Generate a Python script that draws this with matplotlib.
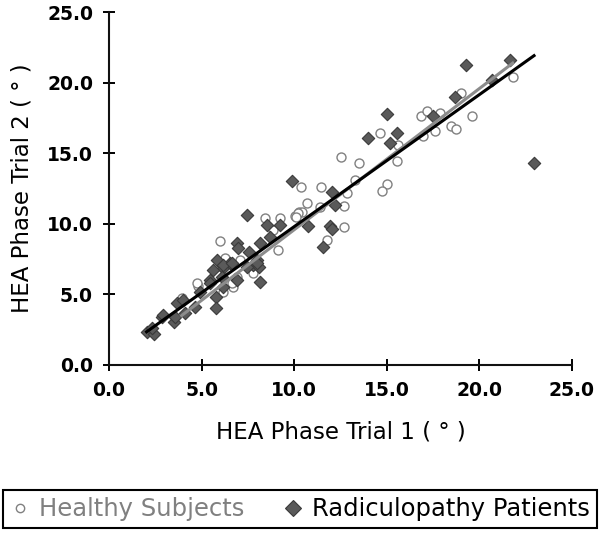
import numpy as np
from matplotlib import pyplot as plt

# HEA phase, trial 1 vs trial 2 (degrees)
healthy_t1 = [21.8, 18.99, 19.58, 16.83, 17.19, 17.87, 18.45, 18.74, 17.62, 14.63,
              15.62, 12.51, 13.52, 15.57, 15.03, 14.72, 12.87, 16.95, 13.3, 10.35,
              11.45, 12.69, 12.69, 11.75, 10.67, 10.28, 10.04, 9.23, 8.42, 11.39,
              5.99, 9.14, 8.84, 4.82, 3.92, 6.17, 6.71, 7.79, 6.9, 4.73,
              6.8, 6.26, 7.07, 6.62, 10.4, 10.22, 10.1]
healthy_t2 = [20.4, 19.24, 17.6, 17.6, 18.0, 17.87, 16.93, 16.69, 16.55, 16.45,
              15.58, 14.71, 14.28, 14.47, 12.82, 12.35, 12.2, 16.2, 13.1, 12.58,
              12.58, 11.26, 9.8, 8.85, 11.45, 10.86, 10.55, 10.39, 10.39, 11.21,
              8.78, 8.14, 9.56, 5.59, 4.72, 5.19, 5.55, 6.49, 6.25, 5.79,
              6.02, 7.55, 7.44, 5.79, 10.84, 10.74, 10.46]

radic_t1 = [21.65, 19.26, 18.68, 20.7, 15.03, 15.53, 14.0, 15.17, 17.5, 22.95,
            12.02, 9.86, 12.2, 10.76, 11.93, 12.02, 11.54, 7.43, 8.51, 9.23,
            8.69, 6.89, 6.98, 7.58, 8.15, 5.81, 7.97, 7.79, 8.12, 6.17,
            6.53, 5.63, 5.45, 8.15, 6.9, 6.17, 5.78, 5.78, 4.64, 4.1,
            3.53, 3.56, 2.84, 2.03, 2.43, 2.3, 6.17, 6.62, 6.08, 5.45,
            3.65, 2.93, 4.01, 4.91, 7.43, 7.97]
radic_t2 = [21.6, 21.25, 19.0, 20.2, 17.78, 16.45, 16.1, 15.75, 17.6, 14.28,
            12.27, 13.03, 11.33, 9.84, 9.84, 9.61, 8.38, 10.62, 9.91, 9.91,
            9.09, 8.62, 8.26, 8.03, 8.62, 7.44, 7.44, 7.08, 6.92, 6.85,
            7.2, 6.73, 6.02, 5.9, 6.02, 5.55, 4.84, 4.06, 4.13, 3.66,
            3.07, 3.42, 3.42, 2.36, 2.2, 2.6, 7.08, 7.2, 6.25, 5.79,
            4.37, 3.54, 4.6, 5.19, 6.96, 7.2]

# linear trend lines (slope, intercept)
fit_healthy = (1.0, -0.42)
fit_radic = (0.935, 0.45)

ticks = [0, 5, 10, 15, 20, 25]

fig = plt.figure(figsize=(6.01, 5.33), dpi=100)
ax = fig.add_axes([109 / 601, 1 - 365 / 533, 463 / 601, 353 / 533])

ax.scatter(healthy_t1, healthy_t2, s=42, marker="o", facecolor="white",
           edgecolor="#808080", linewidth=1.0, zorder=3)
ax.scatter(radic_t1, radic_t2, s=40, marker="D", facecolor="#5a5a5a",
           edgecolor="#3a3a3a", linewidth=0.8, zorder=4)

xh = np.array([min(healthy_t1), max(healthy_t1)])
ax.plot(xh, fit_healthy[0] * xh + fit_healthy[1], c="#8c8c8c", lw=2.2, zorder=5)
xr = np.array([min(radic_t1), max(radic_t1)])
ax.plot(xr, fit_radic[0] * xr + fit_radic[1], c="black", lw=2.2, zorder=6)

ax.set_xlim(0, 25)
ax.set_ylim(0, 25)
ax.set_xticks(ticks)
ax.set_yticks(ticks)
ax.set_xticklabels(["%.1f" % t for t in ticks], fontweight="bold", fontsize=13.5)
ax.set_yticklabels(["%.1f" % t for t in ticks], fontweight="bold", fontsize=13.5)
ax.tick_params(direction="inout", length=9, width=1.4, pad=7)
for side in ["top", "right"]:
    ax.spines[side].set_visible(False)
for side in ["left", "bottom"]:
    ax.spines[side].set_linewidth(1.5)
    ax.spines[side].set_color("#111111")

ax.set_xlabel("HEA Phase Trial 1 ( ° )", fontsize=16.5)
ax.set_ylabel("HEA Phase Trial 2 ( ° )", fontsize=16.5)
ax.xaxis.set_label_coords(0.5, -0.19)
ax.yaxis.set_label_coords(-0.188, 0.5)
ax.xaxis.label.set_va("center")
ax.yaxis.label.set_va("center")

h1, = ax.plot([], [], "o", ms=6, mfc="white", mec="#808080", mew=1.0)
h2, = ax.plot([], [], "D", ms=8, mfc="#5a5a5a", mec="#3a3a3a", mew=0.8)
leg = fig.legend([h1, h2], ["Healthy Subjects", "Radiculopathy Patients"],
                 loc="lower left", bbox_to_anchor=(3 / 601, 5 / 533, 594 / 601, 41 / 533),
                 mode="expand", ncol=2, fontsize=17.5, handlelength=0.8,
                 handletextpad=0.4, borderpad=0.28, borderaxespad=0,
                 fancybox=False, edgecolor="black", framealpha=1)
leg.get_frame().set_linewidth(1.5)
leg.get_texts()[0].set_color("#808080")

plt.savefig("out.png", dpi=100)
